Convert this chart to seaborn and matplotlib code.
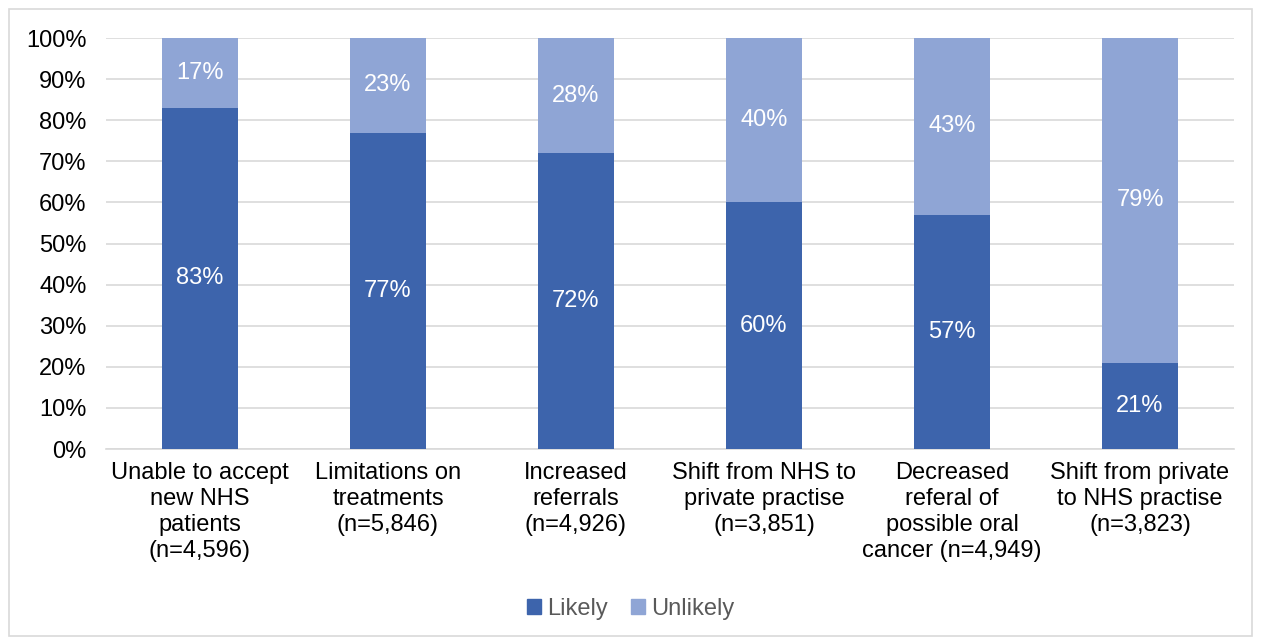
import pandas as pd
import matplotlib.pyplot as plt
import seaborn as sns
from matplotlib.patches import Rectangle, Patch

categories = ["Unable to accept\nnew NHS\npatients\n(n=4,596)",
              "Limitations on\ntreatments\n(n=5,846)",
              "Increased\nreferrals\n(n=4,926)",
              "Shift from NHS to\nprivate practise\n(n=3,851)",
              "Decreased\nreferal of\npossible oral\ncancer (n=4,949)",
              "Shift from private\nto NHS practise\n(n=3,823)"]
likely = [83, 77, 72, 60, 57, 21]
unlikely = [17, 23, 28, 40, 43, 79]

dark = "#3D64AC"
light = "#8FA5D5"

df = pd.DataFrame({"category": categories, "Likely": likely, "Unlikely": unlikely})
df["total"] = df["Likely"] + df["Unlikely"]

sns.set_style("white")
plt.rcParams["font.family"] = ["Liberation Sans", "DejaVu Sans"]
fs = 17

fig = plt.figure(figsize=(12.61, 6.41), dpi=100)
ax = fig.add_axes([0.084, 0.2995, 0.8946, 0.6412])

# stacked: full bar in light colour, likely part on top of it
sns.barplot(data=df, x="category", y="total", color=light, width=0.4,
            saturation=1, linewidth=0, ax=ax, zorder=3)
sns.barplot(data=df, x="category", y="Likely", color=dark, width=0.4,
            saturation=1, linewidth=0, ax=ax, zorder=4)

for i, (l, u) in enumerate(zip(likely, unlikely)):
    ax.text(i, l / 2, f"{l}%", ha="center", va="center", color="white",
            fontsize=fs, zorder=5)
    ax.text(i, l + u / 2, f"{u}%", ha="center", va="center", color="white",
            fontsize=fs, zorder=5)

ax.set_ylim(0, 100)
ax.set_xlim(-0.5, len(categories) - 0.5)
ax.set_yticks(range(0, 101, 10))
ax.set_yticklabels([f"{v}%" for v in range(0, 101, 10)])
ax.yaxis.grid(True, color="#D9D9D9", linewidth=1.2, zorder=0)
ax.set_axisbelow(True)
for s in ["top", "right", "left"]:
    ax.spines[s].set_visible(False)
ax.spines["bottom"].set_color("#D9D9D9")
ax.spines["bottom"].set_linewidth(1.2)
ax.tick_params(axis="y", length=0, pad=14, labelsize=fs, labelcolor="black")
ax.tick_params(axis="x", length=0, pad=9, labelsize=fs, labelcolor="black")
for t in ax.get_xticklabels():
    t.set_linespacing(1.25)
    t.set_verticalalignment("top")
ax.set_xlabel("")
ax.set_ylabel("")

handles = [Patch(color=dark, label="Likely"), Patch(color=light, label="Unlikely")]
fig.legend(handles=handles, loc="center", bbox_to_anchor=(0.5, 0.05), ncol=2,
           frameon=False, fontsize=fs, handlelength=0.6, handleheight=0.6,
           handletextpad=0.25, columnspacing=1.0, labelcolor="#595959")

fig.patches.append(Rectangle((0.007, 0.008), 0.986, 0.978, transform=fig.transFigure,
                             fill=False, edgecolor="#D9D9D9", linewidth=1.2))

fig.savefig("out.png", dpi=100)
